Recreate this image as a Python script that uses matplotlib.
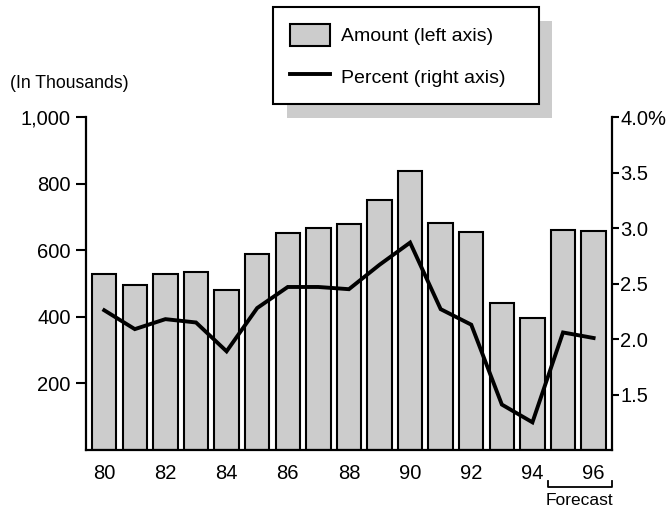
import matplotlib.pyplot as plt
from matplotlib.patches import Rectangle, Patch
from matplotlib.lines import Line2D
import matplotlib.transforms as mtransforms

plt.rcParams['font.family'] = ['Liberation Sans', 'DejaVu Sans']

years = [80, 81, 82, 83, 84, 85, 86, 87, 88, 89, 90, 91, 92, 93, 94, 95, 96]
amount = [529, 496, 529, 534, 482, 588, 651, 668, 678, 751, 838, 682, 654, 441, 396, 661, 658]
percent = [2.26, 2.09, 2.18, 2.15, 1.89, 2.28, 2.47, 2.47, 2.45, 2.67, 2.87, 2.27, 2.13, 1.41, 1.25, 2.06, 2.01]
forecast_years = [95, 96]

left_ticks = [200, 400, 600, 800, 1000]
left_labels = ['200', '400', '600', '800', '1,000']
right_ticks = [1.5, 2.0, 2.5, 3.0, 3.5, 4.0]
right_labels = ['1.5', '2.0', '2.5', '3.0', '3.5', '4.0%']
x_ticks = [80, 82, 84, 86, 88, 90, 92, 94, 96]

fig = plt.figure(figsize=(6.71, 5.12), dpi=100)
ax = fig.add_axes([0.128, 0.121, 0.784, 0.650])

ax.bar(years, amount, width=0.8, color='#cccccc', edgecolor='black', linewidth=1.5)
ax.set_xlim(79.4, 96.6)
ax.set_ylim(0, 1000)
ax.set_yticks(left_ticks)
ax.set_yticklabels(left_labels)
ax.set_xticks(x_ticks)
ax.set_xticklabels([str(y) for y in x_ticks])
ax.tick_params(axis='y', direction='out', length=7, width=1.5, pad=4, labelsize=14.5)
ax.tick_params(axis='x', length=0, pad=10, labelsize=14.5)
ax.spines['top'].set_visible(False)
ax.spines['right'].set_visible(False)
for s in ['left', 'bottom']:
    ax.spines[s].set_linewidth(1.6)

ax2 = ax.twinx()
ax2.plot(years, percent, color='black', linewidth=2.8, solid_joinstyle='miter')
ax2.set_ylim(1.0, 4.0)
ax2.set_yticks(right_ticks)
ax2.set_yticklabels(right_labels)
ax2.tick_params(axis='y', direction='out', length=5, width=1.5, pad=1, labelsize=14.5)
for s in ['top', 'left', 'bottom']:
    ax2.spines[s].set_visible(False)
ax2.spines['right'].set_linewidth(1.6)

# forecast bracket under the last two years
trans = mtransforms.blended_transform_factory(ax.transData, ax.transAxes)
x0 = forecast_years[0] - 0.5
x1 = ax.get_xlim()[1]
ax.plot([x0, x0, x1, x1], [-0.093, -0.111, -0.111, -0.093], color='black',
        linewidth=1.3, transform=trans, clip_on=False)
ax.text((x0 + x1) / 2, -0.128, 'Forecast', transform=trans, ha='center', va='top', fontsize=12.5)

fig.text(0.015, 0.836, '(In Thousands)', ha='left', va='center', fontsize=12.7)

# legend box with offset gray shadow
fig.patches.append(Rectangle((287 / 671, 1 - 118 / 512), 265 / 671, 97 / 512,
                             transform=fig.transFigure, facecolor='#cccccc',
                             edgecolor='none', zorder=1))
handles = [Patch(facecolor='#cccccc', edgecolor='black', linewidth=1.5),
           Line2D([], [], color='black', linewidth=2.8)]
leg = fig.legend(handles, ['Amount (left axis)', 'Percent (right axis)'],
                 loc='upper left', bbox_to_anchor=(273 / 671, 1 - 105 / 512, 266 / 671, 98 / 512),
                 mode='expand', fancybox=False, framealpha=1, edgecolor='black',
                 fontsize=14, handlelength=2.1, handleheight=1.4, handletextpad=0.55,
                 borderpad=0.85, labelspacing=1.0, borderaxespad=0)
leg.get_frame().set_linewidth(1.5)
leg.set_zorder(5)

plt.savefig('out.png', dpi=100)
